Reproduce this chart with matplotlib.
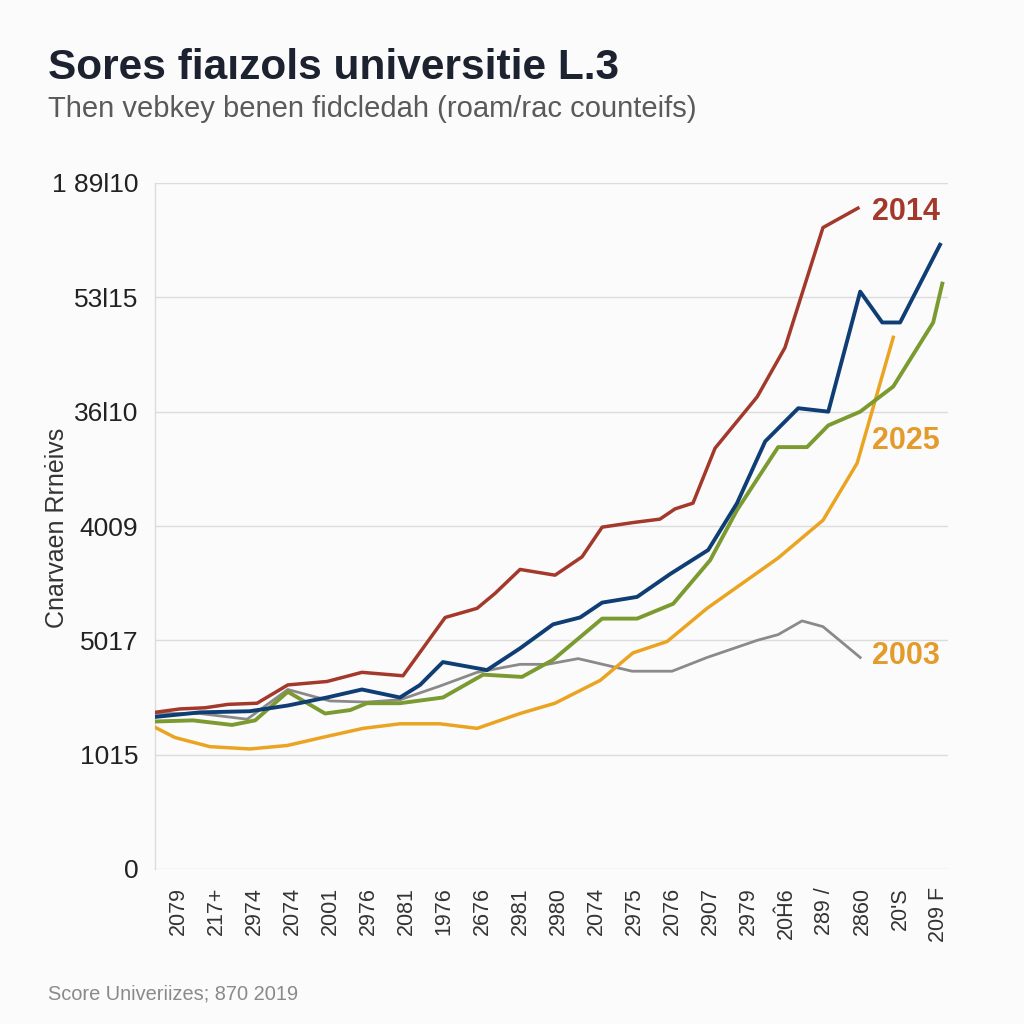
import matplotlib
matplotlib.use("Agg")
import matplotlib.pyplot as plt

plt.rcParams['font.family'] = ['Liberation Sans', 'DejaVu Sans']

# ---- data (x in tick-index units, y in gridline units) ----
x_labels = ["2079", "217+", "2974", "2074", "2001", "2976", "2081", "1976", "2676", "2981",
            "2980", "2074", "2975", "2076", "2907", "2979", "20Ĥ6", "289 /", "2860", "20'S", "209 F"]
y_labels = ["0", "1015", "5017", "4009", "36l10", "53l15", "1 89l10"]

red_x = [-0.61, 0.05, 0.71, 1.32, 2.08, 2.89, 3.92, 4.84, 5.92, 7.03, 7.87, 8.34, 9.00, 9.92,
         10.63, 11.16, 11.97, 12.68, 13.08, 13.55, 14.13, 15.24, 15.97, 16.97, 17.89]
red_y = [1.37, 1.40, 1.41, 1.44, 1.45, 1.61, 1.64, 1.72, 1.69, 2.20, 2.28, 2.41, 2.62, 2.57,
         2.73, 2.99, 3.03, 3.06, 3.15, 3.20, 3.68, 4.13, 4.56, 5.61, 5.78]

blue_x = [-0.61, 0.58, 1.89, 2.89, 3.92, 4.84, 5.84, 6.37, 6.97, 8.13, 9.00, 9.87, 10.58, 11.16,
          12.08, 12.95, 13.95, 14.71, 15.45, 16.32, 17.11, 17.95, 18.53, 19.00, 20.05]
blue_y = [1.33, 1.37, 1.38, 1.43, 1.50, 1.57, 1.50, 1.61, 1.81, 1.74, 1.93, 2.14, 2.20, 2.33,
          2.38, 2.58, 2.79, 3.20, 3.74, 4.03, 4.00, 5.05, 4.78, 4.78, 5.46]

green_x = [-0.61, 0.39, 1.42, 2.03, 2.89, 3.87, 4.53, 4.97, 5.84, 6.97, 8.03, 9.05, 9.87, 11.16,
           12.08, 13.03, 14.00, 14.71, 15.79, 16.55, 17.11, 17.95, 18.82, 19.87, 20.11]
green_y = [1.29, 1.30, 1.26, 1.30, 1.55, 1.36, 1.39, 1.45, 1.45, 1.50, 1.70, 1.68, 1.83, 2.19,
           2.19, 2.32, 2.70, 3.14, 3.69, 3.69, 3.88, 4.00, 4.22, 4.78, 5.12]

gray_x = [-0.61, 0.58, 1.82, 2.89, 4.00, 4.97, 5.84, 6.89, 7.87, 9.00, 9.71, 10.53, 11.95, 13.00,
          13.92, 15.24, 15.79, 16.42, 16.97, 17.95]
gray_y = [1.36, 1.36, 1.31, 1.57, 1.47, 1.46, 1.48, 1.60, 1.72, 1.79, 1.79, 1.84, 1.73, 1.73,
          1.85, 2.00, 2.05, 2.17, 2.12, 1.85]

orange_x = [-0.61, -0.08, 0.84, 1.89, 2.87, 3.92, 4.87, 5.84, 6.89, 7.87, 9.00, 9.92, 11.11,
            11.97, 12.87, 13.92, 15.79, 16.97, 17.87, 18.82]
orange_y = [1.24, 1.15, 1.07, 1.05, 1.08, 1.16, 1.23, 1.27, 1.27, 1.23, 1.36, 1.45, 1.65,
            1.89, 1.99, 2.28, 2.72, 3.05, 3.55, 4.65]

end_labels = ["2014", "2025", "2003"]
end_label_y = [5.75, 3.74, 1.86]

# ---- style ----
BG = "#fbfbfc"
C_RED = "#a3392a"
C_BLUE = "#0f3e74"
C_GREEN = "#7b9b30"
C_GRAY = "#8a8a8a"
C_ORANGE = "#eba421"
C_LABEL_OR = "#e39c2c"

fig = plt.figure(figsize=(10.24, 10.24), dpi=100, facecolor=BG)
ax = fig.add_axes([155/1024, 1-869/1024, (948-155)/1024, (869-183)/1024], facecolor=BG)

ax.plot(gray_x, gray_y, color=C_GRAY, lw=2.0, zorder=3)
ax.plot(orange_x, orange_y, color=C_ORANGE, lw=2.5, zorder=4)
ax.plot(green_x, green_y, color=C_GREEN, lw=2.8, zorder=5)
ax.plot(blue_x, blue_y, color=C_BLUE, lw=2.8, zorder=6)
ax.plot(red_x, red_y, color=C_RED, lw=2.5, zorder=7)

label_colors = [C_RED, C_LABEL_OR, C_LABEL_OR]
for txt, yv, c in zip(end_labels, end_label_y, label_colors):
    ax.text(18.27, yv, txt, color=c, fontsize=22, fontweight='bold',
            ha='left', va='center', clip_on=False)

ax.set_xlim(-0.605, 20.26)
ax.set_ylim(0, 6)
ax.set_xticks(range(len(x_labels)))
ax.set_xticklabels(x_labels, rotation=90, fontsize=15.5, color="#333333")
ax.set_yticks(range(len(y_labels)))
ax.set_yticklabels(y_labels, fontsize=19, color="#222222")
ax.tick_params(axis='both', length=0)
ax.tick_params(axis='x', pad=13)
ax.tick_params(axis='y', pad=12)
ax.grid(axis='y', color="#dcdcdc", lw=1.0, zorder=0)
for s in ['top', 'right', 'bottom']:
    ax.spines[s].set_visible(False)
ax.spines['left'].set_color("#dcdcdc")
ax.spines['left'].set_linewidth(1.0)

fig.text(48/1024, 1-79/1024, "Sores fiaızols universitie L.3", fontsize=30.5, fontweight='bold',
         color="#1d2231", ha='left', va='baseline')
fig.text(48/1024, 1-117/1024, "Then vebkey benen fidcledah (roam/rac counteifs)", fontsize=21,
         color="#5a5a5a", ha='left', va='baseline')
fig.text(57/1024, 1-528/1024, "Cnarvaen Rrnėivs", fontsize=18, color="#333333",
         rotation=90, ha='center', va='center')
fig.text(48/1024, 1-1000/1024, "Score Univeriizes; 870 2019", fontsize=14.4, color="#8a8a8a",
         ha='left', va='baseline')

fig.savefig("out.png", dpi=100, facecolor=BG)
